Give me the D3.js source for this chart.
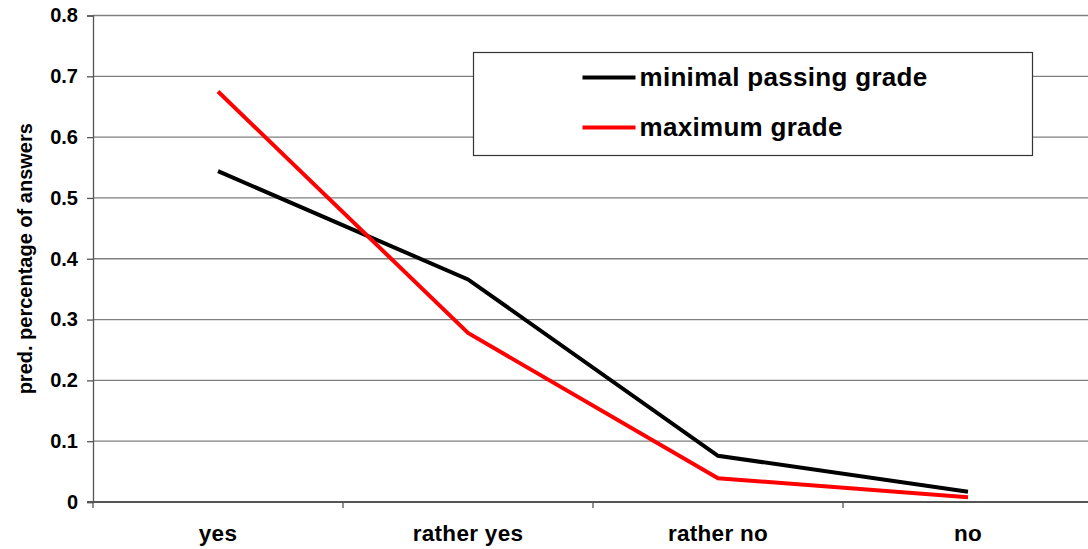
<!DOCTYPE html>
<html>
<head>
<meta charset="utf-8">
<script src="https://cdn.jsdelivr.net/npm/d3@7"></script>
<style>
  html, body { margin: 0; padding: 0; background: #fff; }
  svg { display: block; font-family: "Liberation Sans", Arial, sans-serif; font-weight: bold; }
</style>
</head>
<body>
<script>
// Answer categories along the x axis
const categories = ["yes", "rather yes", "rather no", "no"];
// Predicted share of answers per grade group
const minimalPassing = [0.544, 0.366, 0.076, 0.017];
const maximumGrade = [0.675, 0.278, 0.039, 0.008];
const seriesNames = ["minimal passing grade", "maximum grade"];
const seriesColors = ["#000000", "#ff0000"];
const yTicks = [0, 0.1, 0.2, 0.3, 0.4, 0.5, 0.6, 0.7, 0.8];

const W = 1088, H = 549;
const margin = { left: 93, top: 15.5, bottom: 47 };
const plotRight = 1093;

const svg = d3.select("body").append("svg").attr("width", W).attr("height", H);

const x = d3.scaleBand().domain(categories).range([margin.left, plotRight]);
const y = d3.scaleLinear().domain([0, 0.8]).range([H - margin.bottom, margin.top]);

// horizontal gridlines
svg.append("g").selectAll("line").data(yTicks.filter(d => d > 0)).join("line")
  .attr("x1", margin.left).attr("x2", W)
  .attr("y1", d => y(d)).attr("y2", d => y(d))
  .attr("stroke", "#7f7f7f").attr("stroke-width", 1.3);

// y axis
const yAxis = svg.append("g").attr("transform", `translate(${margin.left},0)`)
  .call(d3.axisLeft(y).tickValues(yTicks).tickSize(6).tickPadding(9)
    .tickFormat(d => d === 0 ? "0" : d3.format(".1f")(d)));
yAxis.select(".domain").attr("stroke", "#555").attr("stroke-width", 1.3);
yAxis.selectAll(".tick line").attr("stroke", "#555").attr("stroke-width", 1.3);
yAxis.selectAll("text").attr("font-size", 20).attr("font-weight", "bold")
  .attr("font-family", "Liberation Sans, Arial, sans-serif").attr("fill", "#000");

// x axis with ticks between categories
const xAxisG = svg.append("g").attr("transform", `translate(0,${y(0)})`);
xAxisG.append("line").attr("x1", margin.left - 6).attr("x2", W)
  .attr("stroke", "#555").attr("stroke-width", 2);
const boundaries = categories.map(c => x(c)).concat([plotRight]);
xAxisG.selectAll("line.tk").data(boundaries).join("line").attr("class", "tk")
  .attr("x1", d => d).attr("x2", d => d).attr("y1", 0).attr("y2", 6)
  .attr("stroke", "#555").attr("stroke-width", 1.3);
xAxisG.selectAll("text").data(categories).join("text")
  .attr("x", d => x(d) + x.bandwidth() / 2).attr("y", 39)
  .attr("text-anchor", "middle").attr("font-size", 22.5)
  .attr("letter-spacing", 0.3).text(d => d);

// y axis title
svg.append("text")
  .attr("transform", `translate(32,${(y(0) + y(0.8)) / 2}) rotate(-90)`)
  .attr("text-anchor", "middle").attr("font-size", 20)
  .text("pred. percentage of answers");

// series lines
const line = d3.line()
  .x((d, i) => x(categories[i]) + x.bandwidth() / 2)
  .y(d => y(d));
[minimalPassing, maximumGrade].forEach((vals, i) => {
  svg.append("path").datum(vals).attr("d", line)
    .attr("fill", "none").attr("stroke", seriesColors[i])
    .attr("stroke-width", 4).attr("stroke-linejoin", "miter");
});

// legend
const lg = svg.append("g").attr("transform", "translate(473.5,52.5)");
lg.append("rect").attr("width", 559).attr("height", 103)
  .attr("fill", "#fff").attr("stroke", "#333").attr("stroke-width", 1.2);
seriesNames.forEach((name, i) => {
  const yy = 25 + i * 50;
  lg.append("line").attr("x1", 109).attr("x2", 162).attr("y1", yy).attr("y2", yy)
    .attr("stroke", seriesColors[i]).attr("stroke-width", 4);
  lg.append("text").attr("x", 166).attr("y", yy + 8).attr("font-size", 26)
    .attr("letter-spacing", 0.3).text(name);
});
</script>
</body>
</html>
